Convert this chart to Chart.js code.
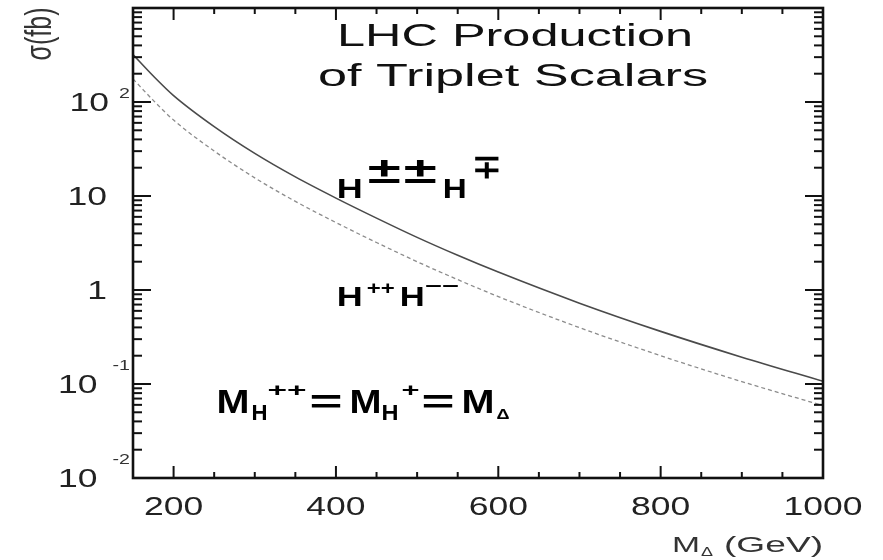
<!DOCTYPE html>
<html>
<head>
<meta charset="utf-8">
<script src="https://cdn.jsdelivr.net/npm/chart.js@4"></script>
<style>
  html, body { margin: 0; padding: 0; background: #ffffff; }
  #wrap { width: 883px; height: 560px; position: relative; }
  canvas { display: block; }
</style>
</head>
<body>
<div id="wrap"><canvas id="c" width="883" height="560"></canvas></div>
<script>
// ---- data ----
const massGeV = [150, 175, 200, 250, 300, 350, 400, 450, 500, 550, 600, 700, 800, 900, 1000];
// sigma (fb) for H±± H∓ (solid)
const sigmaPairCharged = [320, 189, 117, 54.7, 28.4, 15.96, 9.5, 5.82, 3.63, 2.34, 1.55, 0.724, 0.363, 0.193, 0.107];
// sigma (fb) for H++ H-- (dashed)
const sigmaPairDoubly = [176, 104, 64.3, 30.1, 15.6, 8.77, 5.22, 3.2, 2.0, 1.29, 0.851, 0.398, 0.20, 0.106, 0.0589];

const xTickValues = [200, 400, 600, 800, 1000];
const xTickLabels = ["200", "400", "600", "800", "1000"];
const yTickValues = [100, 10, 1, 0.1, 0.01];
const yTickBase = ["10", "10", "1", "10", "10"];
const yTickExp = ["2", "", "", "-1", "-2"];

const FONT = '"Liberation Sans", Arial, Helvetica, sans-serif';

function drawText(ctx, s, x, y, o) {
  ctx.save();
  ctx.font = (o.bold ? 'bold ' : '') + o.size + 'px ' + FONT;
  ctx.fillStyle = o.color || '#1a1a1a';
  ctx.textBaseline = 'alphabetic';
  ctx.textAlign = 'left';
  const mw = ctx.measureText(s).width;
  const sx = o.width ? o.width / mw : (o.sx || 1);
  const sy = o.sy || 1;
  const w = mw * sx;
  const align = o.align || 'left';
  const left = align === 'left' ? x : (align === 'right' ? x - w : x - w / 2);
  ctx.translate(left, y);
  ctx.scale(sx, sy);
  ctx.fillText(s, 0, 0);
  ctx.restore();
  return w;
}

const framePlugin = {
  id: 'framePlugin',
  afterDraw(chart) {
    const ctx = chart.ctx;
    const a = chart.chartArea;
    const xs = chart.scales.x, ys = chart.scales.y;
    ctx.save();
    ctx.strokeStyle = '#111';
    // ticks x (bottom & top), inward
    ctx.lineWidth = 2;
    for (let v = 200; v <= 1000; v += 50) {
      const px = xs.getPixelForValue(v);
      const major = (v % 200 === 0);
      const L = major ? 12 : 6;
      ctx.beginPath(); ctx.moveTo(px, a.bottom); ctx.lineTo(px, a.bottom - L); ctx.stroke();
      ctx.beginPath(); ctx.moveTo(px, a.top); ctx.lineTo(px, a.top + L); ctx.stroke();
    }
    // ticks y (left & right), inward, log
    for (let d = -2; d <= 2; d++) {
      for (let m = 1; m <= 9; m++) {
        const v = m * Math.pow(10, d);
        if (v < 0.01 || v > 1000) continue;
        const py = ys.getPixelForValue(v);
        const L = m === 1 ? 18 : 9;
        ctx.beginPath(); ctx.moveTo(a.left, py); ctx.lineTo(a.left + L, py); ctx.stroke();
        ctx.beginPath(); ctx.moveTo(a.right, py); ctx.lineTo(a.right - L, py); ctx.stroke();
      }
    }
    // frame
    ctx.lineWidth = 2.6;
    ctx.strokeRect(a.left, a.top, a.right - a.left, a.bottom - a.top);
    ctx.restore();

    // x tick labels
    xTickValues.forEach((v, i) => {
      const px = xs.getPixelForValue(v);
      drawText(ctx, xTickLabels[i], px, a.bottom + 37, { size: 25, sx: 1.42, align: 'center', color: '#222' });
    });
    // y tick labels
    yTickValues.forEach((v, i) => {
      const py = ys.getPixelForValue(v);
      const e = yTickExp[i];
      if (e) {
        const ew = drawText(ctx, e, a.left - 3, py + (e.length > 1 ? -14 : -4), { size: 14, sx: 1.4, align: 'right', color: '#333' });
        drawText(ctx, yTickBase[i], a.left - 3 - ew - (e.length > 1 ? 15 : 10), py + 9, { size: 25, sx: 1.42, align: 'right', color: '#222' });
      } else {
        drawText(ctx, yTickBase[i], a.left - 26, py + 9, { size: 25, sx: 1.42, align: 'right', color: '#222' });
      }
    });

    // axis titles
    const x0 = a.right - 151;
    const yb = a.bottom + 74;
    drawText(ctx, 'M', x0, yb, { size: 22, width: 28, color: '#333' });
    drawText(ctx, 'Δ', x0 + 29, yb + 4, { size: 12, width: 12, color: '#333' });
    drawText(ctx, '(GeV)', x0 + 52, yb, { size: 22, width: 99, color: '#333' });

    ctx.save();
    ctx.translate(51, 34);
    ctx.rotate(-Math.PI / 2);
    drawText(ctx, 'σ(fb)', 0, 0, { size: 27, width: 53, sy: 1.4, align: 'center', color: '#333' });
    ctx.restore();

    // title
    drawText(ctx, 'LHC Production', 337, 46, { size: 32, width: 356, color: '#111' });
    drawText(ctx, 'of Triplet Scalars', 318, 86, { size: 32, width: 390, color: '#111' });

    // curve labels anchored to data coordinates
    let ax = xs.getPixelForValue(401), ay = ys.getPixelForValue(9.57);
    drawText(ctx, 'H', ax, ay, { size: 28, bold: true, width: 26, color: '#000' });
    drawText(ctx, '±', ax + 31, ay - 15, { size: 36, bold: true, width: 33, color: '#000' });
    drawText(ctx, '±', ax + 67, ay - 15, { size: 36, bold: true, width: 33, color: '#000' });
    drawText(ctx, 'H', ax + 106, ay, { size: 28, bold: true, width: 24, color: '#000' });
    drawText(ctx, '∓', ax + 135, ay - 20, { size: 33, bold: true, width: 30, color: '#000' });

    ax = xs.getPixelForValue(401); ay = ys.getPixelForValue(0.675);
    drawText(ctx, 'H', ax, ay, { size: 28, bold: true, width: 26, color: '#000' });
    drawText(ctx, '++', ax + 30, ay - 12, { size: 18, bold: true, width: 28, color: '#000' });
    drawText(ctx, 'H', ax + 63, ay, { size: 28, bold: true, width: 25, color: '#000' });
    drawText(ctx, '−−', ax + 88, ay - 14, { size: 18, bold: true, width: 34, color: '#000' });

    ax = xs.getPixelForValue(253); ay = ys.getPixelForValue(0.0486);
    drawText(ctx, 'M', ax, ay, { size: 34, bold: true, width: 33, color: '#000' });
    drawText(ctx, 'H', ax + 35, ay + 7, { size: 22, bold: true, width: 16, color: '#000' });
    drawText(ctx, '++', ax + 51, ay - 17, { size: 18, bold: true, width: 39, color: '#000' });
    drawText(ctx, '=', ax + 93, ay, { size: 34, bold: true, width: 33, color: '#000' });
    drawText(ctx, 'M', ax + 133, ay, { size: 34, bold: true, width: 32, color: '#000' });
    drawText(ctx, 'H', ax + 165, ay + 7, { size: 22, bold: true, width: 17, color: '#000' });
    drawText(ctx, '+', ax + 185, ay - 17, { size: 18, bold: true, width: 18, color: '#000' });
    drawText(ctx, '=', ax + 205, ay, { size: 34, bold: true, width: 33, color: '#000' });
    drawText(ctx, 'M', ax + 245, ay, { size: 34, bold: true, width: 33, color: '#000' });
    drawText(ctx, 'Δ', ax + 280, ay + 6, { size: 15, bold: true, width: 13, color: '#000' });
  }
};

const toPts = (ys) => massGeV.map((m, i) => ({ x: m, y: ys[i] }));

new Chart(document.getElementById('c'), {
  type: 'line',
  data: {
    datasets: [
      {
        label: 'H±±H∓',
        data: toPts(sigmaPairCharged),
        borderColor: '#4a4a4a',
        borderWidth: 1.6,
        pointRadius: 0,
        cubicInterpolationMode: 'monotone',
        fill: false
      },
      {
        label: 'H++H--',
        data: toPts(sigmaPairDoubly),
        borderColor: '#8c8c8c',
        borderWidth: 1.3,
        borderDash: [4, 3],
        pointRadius: 0,
        cubicInterpolationMode: 'monotone',
        fill: false
      }
    ]
  },
  options: {
    responsive: false,
    animation: false,
    devicePixelRatio: 1,
    layout: { padding: { top: 8, right: 60, left: 0, bottom: 0 } },
    plugins: { legend: { display: false }, tooltip: { enabled: false }, title: { display: false } },
    scales: {
      x: {
        type: 'linear', min: 150, max: 1000,
        grid: { display: false }, border: { display: false },
        ticks: { display: false },
        afterFit(s) { s.height = 82; }
      },
      y: {
        type: 'logarithmic', min: 0.01, max: 1000,
        grid: { display: false }, border: { display: false },
        ticks: { display: false },
        afterFit(s) { s.width = 133; }
      }
    }
  },
  plugins: [framePlugin]
});
</script>
</body>
</html>
